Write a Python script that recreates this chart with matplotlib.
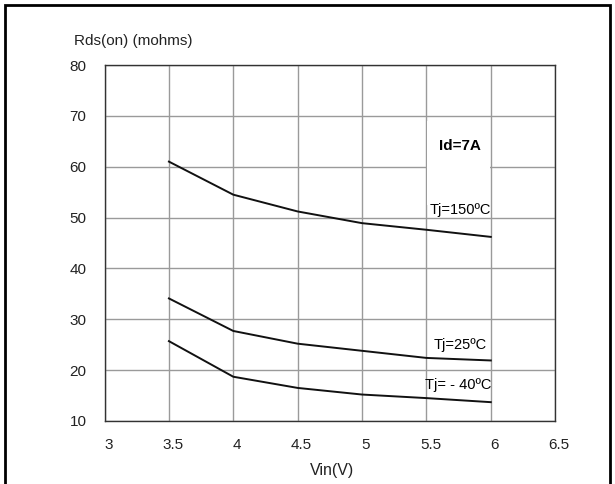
import matplotlib
matplotlib.use('Agg')
import matplotlib.pyplot as plt
import matplotlib.patches as patches
import matplotlib.transforms as mtransforms

# dados
vin = [3.5, 4, 4.5, 5, 5.5, 6]
rds_150 = [61.0, 54.5, 51.2, 48.9, 47.6, 46.2]
rds_25 = [34.1, 27.7, 25.2, 23.8, 22.4, 21.9]
rds_m40 = [25.7, 18.7, 16.5, 15.2, 14.5, 13.7]
xticks = [3, 3.5, 4, 4.5, 5, 5.5, 6, 6.5]
yticks = [10, 20, 30, 40, 50, 60, 70, 80]

plt.rcParams['font.family'] = ['Liberation Sans', 'DejaVu Sans']

fig = plt.figure(figsize=(6.15, 4.84), dpi=100)
ax = fig.add_axes([0.170, 0.1302, 0.7327, 0.7355])

ax.set_xlim(3, 6.5)
ax.set_ylim(10, 80)
ax.set_xticks(xticks)
ax.set_yticks(yticks)
ax.set_xticklabels(['3', '3.5', '4', '4.5', '5', '5.5', '6', '6.5'])
ax.tick_params(length=0, labelsize=11, colors='#222222')
ax.tick_params(axis='x', pad=12)
ax.tick_params(axis='y', pad=13)
# rótulos do eixo x levemente deslocados para a direita
offset = mtransforms.ScaledTranslation(4 / 100, 0, fig.dpi_scale_trans)
for lbl in ax.get_xticklabels():
    lbl.set_transform(lbl.get_transform() + offset)

ax.grid(True, color='#9a9a9a', linewidth=1.0)
ax.set_axisbelow(True)
for s in ax.spines.values():
    s.set_color('#333333')
    s.set_linewidth(1.0)

# caixa branca atrás de Id=7A
ax.add_patch(patches.Rectangle((5.505, 52.5), 0.49, 16.5, facecolor='white',
                               edgecolor='none', zorder=1.5))

for serie in (rds_150, rds_25, rds_m40):
    ax.plot(vin, serie, color='#111111', linewidth=1.4, zorder=3)

ax.text(5.76, 64.1, 'Id=7A', fontsize=11, fontweight='bold', ha='center', va='center', zorder=4)
ax.text(5.76, 51.5, 'Tj=150ºC', fontsize=10.5, ha='center', va='center', zorder=4)
ax.text(5.76, 25.0, 'Tj=25ºC', fontsize=10.5, ha='center', va='center', zorder=4)
ax.text(5.75, 17.1, 'Tj= - 40ºC', fontsize=10.5, ha='center', va='center', zorder=4)

fig.text(74 / 615, 1 - 41 / 484, 'Rds(on) (mohms)', fontsize=11, ha='left', va='center', color='#222222')
fig.text(332 / 615, 1 - 471 / 484, 'Vin(V)', fontsize=11.5, ha='center', va='center', color='#222222')

# moldura da figura
fig.add_artist(patches.Rectangle((5 / 615, -0.1), 605 / 615, 1.1 - 5 / 484,
                                 transform=fig.transFigure, fill=False,
                                 edgecolor='black', linewidth=2))

fig.savefig('out.png', dpi=100)
